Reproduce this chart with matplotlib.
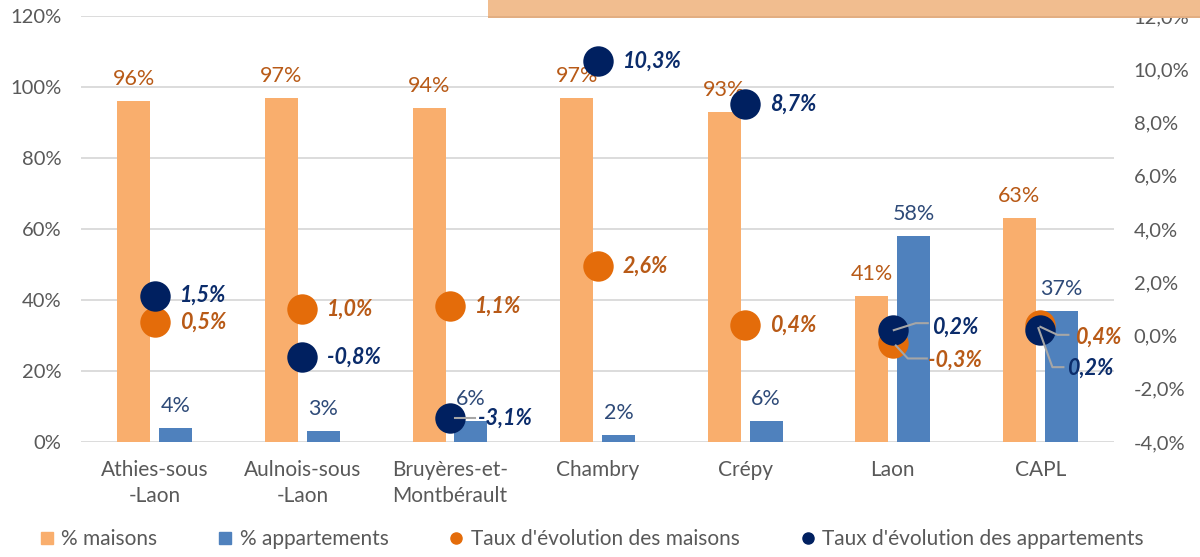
import matplotlib
matplotlib.use("Agg")
import matplotlib.pyplot as plt
from matplotlib.lines import Line2D
from matplotlib.patches import Rectangle
import numpy as np

categories = ["Athies-sous\n-Laon", "Aulnois-sous\n-Laon", "Bruyères-et-\nMontbérault",
              "Chambry", "Crépy", "Laon", "CAPL"]
pct_maisons = [96, 97, 94, 97, 93, 41, 63]
pct_apparts = [4, 3, 6, 2, 6, 58, 37]
taux_maisons = [0.5, 1.0, 1.1, 2.6, 0.4, -0.3, 0.4]
taux_apparts = [1.5, -0.8, -3.1, 10.3, 8.7, 0.2, 0.2]
left_ticks = [0, 20, 40, 60, 80, 100, 120]
right_ticks = [-4, -2, 0, 2, 4, 6, 8, 10, 12]
legend_labels = ["% maisons", "% appartements", "Taux d'évolution des maisons",
                 "Taux d'évolution des appartements"]

plt.rcParams['font.family'] = ['Lato', 'DejaVu Sans']

C_BAR_M = "#F9AE6D"
C_BAR_A = "#4F81BD"
C_DOT_M = "#E46C0A"
C_DOT_A = "#002060"
C_LBL_M = "#B85A17"
C_LBL_BAR_A = "#2E4A78"
C_LBL_A = "#0B2C6B"
C_TICK = "#595959"
C_GRID = "#D9D9D9"
C_LEAD = "#A6A6A6"

FS_TICK = 14.5
FS_CAT = 15
FS_BAR = 15.5
FS_PT = 15.5

fig = plt.figure(figsize=(12, 5.57), dpi=100)
ax = fig.add_axes([0.0675, 0.2065, 0.861, 0.7648])
ax2 = ax.twinx()

x = np.arange(len(categories))
w = 0.224
off = 0.142
ax.bar(x - off, pct_maisons, w, color=C_BAR_M, zorder=2)
ax.bar(x + off, pct_apparts, w, color=C_BAR_A, zorder=2)

ax.set_xlim(-0.5, len(categories) - 0.5)
ax.set_ylim(0, 120)
ax.set_yticks(left_ticks)
ax.set_yticklabels([f"{t}%" for t in left_ticks])
ax.yaxis.grid(True, color=C_GRID, linewidth=1.3)
ax.set_axisbelow(True)
ax.set_xticks(x)
ax.set_xticklabels(categories, linespacing=1.38)
ax.tick_params(axis='y', length=0, colors=C_TICK, labelsize=FS_TICK, pad=14)
ax.tick_params(axis='x', length=0, colors=C_TICK, labelsize=FS_CAT, pad=13)
for s in ax.spines.values():
    s.set_visible(False)

ax2.set_ylim(-4, 12)
ax2.set_yticks(right_ticks)
ax2.set_yticklabels([f"{t:.1f}%".replace(".", ",") for t in right_ticks])
ax2.tick_params(axis='y', length=0, colors=C_TICK, labelsize=FS_TICK, pad=14)
for s in ax2.spines.values():
    s.set_visible(False)

for xi, v in zip(x, pct_maisons):
    ax.annotate(f"{v}%", (xi - off, v), xytext=(0, 12), textcoords='offset pixels',
                ha='center', va='bottom', color=C_LBL_M, fontsize=FS_BAR, zorder=5)
for xi, v in zip(x, pct_apparts):
    ax.annotate(f"{v}%", (xi + off, v), xytext=(0, 12), textcoords='offset pixels',
                ha='center', va='bottom', color=C_LBL_BAR_A, fontsize=FS_BAR, zorder=5)

ax2.scatter(x, taux_maisons, s=480, color=C_DOT_M, zorder=3, linewidths=0)
ax2.scatter(x, taux_apparts, s=480, color=C_DOT_A, zorder=4, linewidths=0)

def fmt(v):
    return f"{v:.1f}%".replace(".", ",")

# label offsets in pixels (dx, dy) and optional leader-line path
m_off = [(25, 0), (25, 0), (25, 0), (25, 0), (25, 0), (35, -17), (35, -12)]
a_off = [(25, 0), (25, 0), (28, 0), (25, 0), (25, 0), (39, 3), (27, -38)]
m_lead = [None, None, None, None, None, [(3, -2), (15, -15), (34, -15)],
          [(0, -2), (17, -10), (28, -10)]]
a_lead = [None, None, [(5, 0), (25, 0)], None, None, [(1, 0), (23, 7), (35, 7)],
          [(-2, 2), (12, -37), (23, -37)]]

def place(vals, offs, leads, color, zl):
    for xi, v, o, ld in zip(x, vals, offs, leads):
        ax2.annotate(fmt(v), (xi, v), xytext=o, textcoords='offset pixels',
                     ha='left', va='center', color=color, fontsize=FS_PT,
                     fontweight='bold', fontstyle='italic', zorder=zl)
        if ld is not None:
            tr = ax2.transData
            px, py = tr.transform((xi, v))
            pts = [(px + dx, py + dy) for dx, dy in ld]
            inv = tr.inverted()
            dpts = np.array([inv.transform(p) for p in pts])
            ax2.plot(dpts[:, 0], dpts[:, 1], color=C_LEAD, linewidth=1.5, zorder=6)

place(taux_maisons, m_off, m_lead, C_LBL_M, 7)
place(taux_apparts, a_off, a_lead, C_LBL_A, 7)

handles = [
    Line2D([], [], linestyle='none', marker='s', markersize=8.5, color=C_BAR_M),
    Line2D([], [], linestyle='none', marker='s', markersize=8.5, color=C_BAR_A),
    Line2D([], [], linestyle='none', marker='o', markersize=8, color=C_DOT_M),
    Line2D([], [], linestyle='none', marker='o', markersize=8, color=C_DOT_A),
]
leg = fig.legend(handles, legend_labels, loc='lower center', bbox_to_anchor=(0.493, -0.02),
                 ncol=4, frameon=False, fontsize=FS_CAT, handlelength=0.7,
                 handletextpad=0.35, columnspacing=2.9)
for t in leg.get_texts():
    t.set_color(C_TICK)

# cropped banner at top right
fig.patches.append(Rectangle((0.4067, 0.9695), 0.6, 0.04, transform=fig.transFigure,
                             facecolor="#F1BD8F", edgecolor="none", zorder=10))
fig.patches.append(Rectangle((0.4067, 0.9675), 0.6, 0.003, transform=fig.transFigure,
                             facecolor="#E2AE82", edgecolor="none", zorder=10))

fig.savefig("out.png", dpi=100)
